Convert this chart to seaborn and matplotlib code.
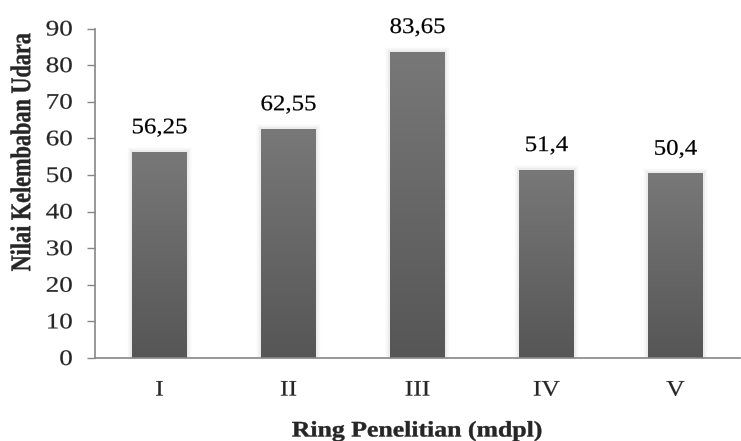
import matplotlib
matplotlib.use("Agg")
import matplotlib.pyplot as plt
import matplotlib.patheffects as pe
from matplotlib.transforms import Affine2D
from matplotlib.colors import LinearSegmentedColormap
import seaborn as sns
import numpy as np
import pandas as pd

categories = ["I", "II", "III", "IV", "V"]
values = [56.25, 62.55, 83.65, 51.4, 50.4]
value_labels = ["56,25", "62,55", "83,65", "51,4", "50,4"]
yticks = [0, 10, 20, 30, 40, 50, 60, 70, 80, 90]


class Stretch(pe.AbstractPathEffect):
    """Stretch (and slightly embolden) glyph outlines; text stays a Text artist."""
    def __init__(self, sx=1.0, sy=1.0, anchor="center", lw=0.15):
        super().__init__()
        self.sx, self.sy, self.anchor, self.lw = sx, sy, anchor, lw

    def draw_path(self, renderer, gc, tpath, affine, rgbFace=None):
        ext = tpath.get_extents()
        if self.anchor == "right":
            cx = ext.x1
        elif self.anchor == "left":
            cx = ext.x0
        else:
            cx = (ext.x0 + ext.x1) / 2
        cy = (ext.y0 + ext.y1) / 2
        t = Affine2D().translate(-cx, -cy).scale(self.sx, self.sy).translate(cx, cy)
        gc0 = renderer.new_gc()
        gc0.copy_properties(gc)
        if self.lw > 0 and rgbFace is not None:
            gc0.set_linewidth(self.lw)
            gc0.set_foreground(rgbFace)
            gc0.set_joinstyle('round')
        renderer.draw_path(gc0, tpath, t + affine, rgbFace)
        gc0.restore()


sns.set_theme(style="white")
plt.rcParams['font.family'] = ['Liberation Serif', 'DejaVu Serif']

df = pd.DataFrame({"ring": categories, "nilai": values})

W, H = 741, 441
fig = plt.figure(figsize=(W / 100, H / 100), dpi=100)
ax = fig.add_axes([95 / W, 1 - 358 / H, 645 / W, (358 - 28.5) / H])

sns.barplot(data=df, x="ring", y="nilai", color="#6a6a6a", width=0.42, ax=ax,
            saturation=1, zorder=2)

ax.set_ylim(0, 90)
ax.set_xlim(-0.5, 4.5)
ax.set_yticks(yticks)
ax.set_yticklabels([str(t) for t in yticks], fontsize=16)
ax.tick_params(axis='y', direction='out', length=5.8, width=1, color='#868686',
               pad=10.3, left=True)
ax.tick_params(axis='x', length=0, labelsize=16, pad=17)
for t in ax.get_yticklabels():
    t.set_path_effects([Stretch(sx=1.22, anchor="right")])
for t in ax.get_xticklabels():
    t.set_path_effects([Stretch(sx=1.15)])

# vertical gradient fill + soft shadow for each bar
grad = np.linspace(0, 1, 256).reshape(-1, 1)
cmap = LinearSegmentedColormap.from_list("g", ["#565656", "#787878"])
for p in ax.patches:
    x0, y0 = p.get_x(), p.get_y()
    w, h = p.get_width(), p.get_height()
    im = ax.imshow(grad, extent=[x0, x0 + w, y0, y0 + h], origin='lower',
                   cmap=cmap, aspect='auto', zorder=3)
    im.set_clip_path(p)
    p.set_edgecolor('none')
    p.set_path_effects([pe.Stroke(linewidth=6, foreground='#f7f7f7'),
                        pe.Stroke(linewidth=3, foreground='#ececec'),
                        pe.Normal()])

for p, lab in zip(ax.patches, value_labels):
    ax.annotate(lab, (p.get_x() + p.get_width() / 2, p.get_height()),
                xytext=(0, 13.5), textcoords='offset points', ha='center',
                va='baseline', fontsize=16, color='black',
                path_effects=[Stretch(sx=1.12)])

ax.set_xlabel("Ring Penelitian (mdpl)", fontsize=16, fontweight='bold')
ax.xaxis.set_label_coords(0.5, -63.5 / 329.5)
ax.xaxis.label.set_va('top')
ax.xaxis.label.set_path_effects([Stretch(sx=1.16, lw=0.3)])

ax.set_ylabel("")
fig.text(23 / W, 1 - 152 / H, "Nilai Kelembaban Udara", rotation=90,
         ha='center', va='center', fontsize=16, fontweight='bold',
         path_effects=[Stretch(sy=1.28, lw=0.3)])

for s in ['top', 'right']:
    ax.spines[s].set_visible(False)
for s in ['left', 'bottom']:
    ax.spines[s].set_color('#868686')
    ax.spines[s].set_linewidth(1.2)
ax.spines['bottom'].set_zorder(4)

fig.savefig("out.png", dpi=100)
